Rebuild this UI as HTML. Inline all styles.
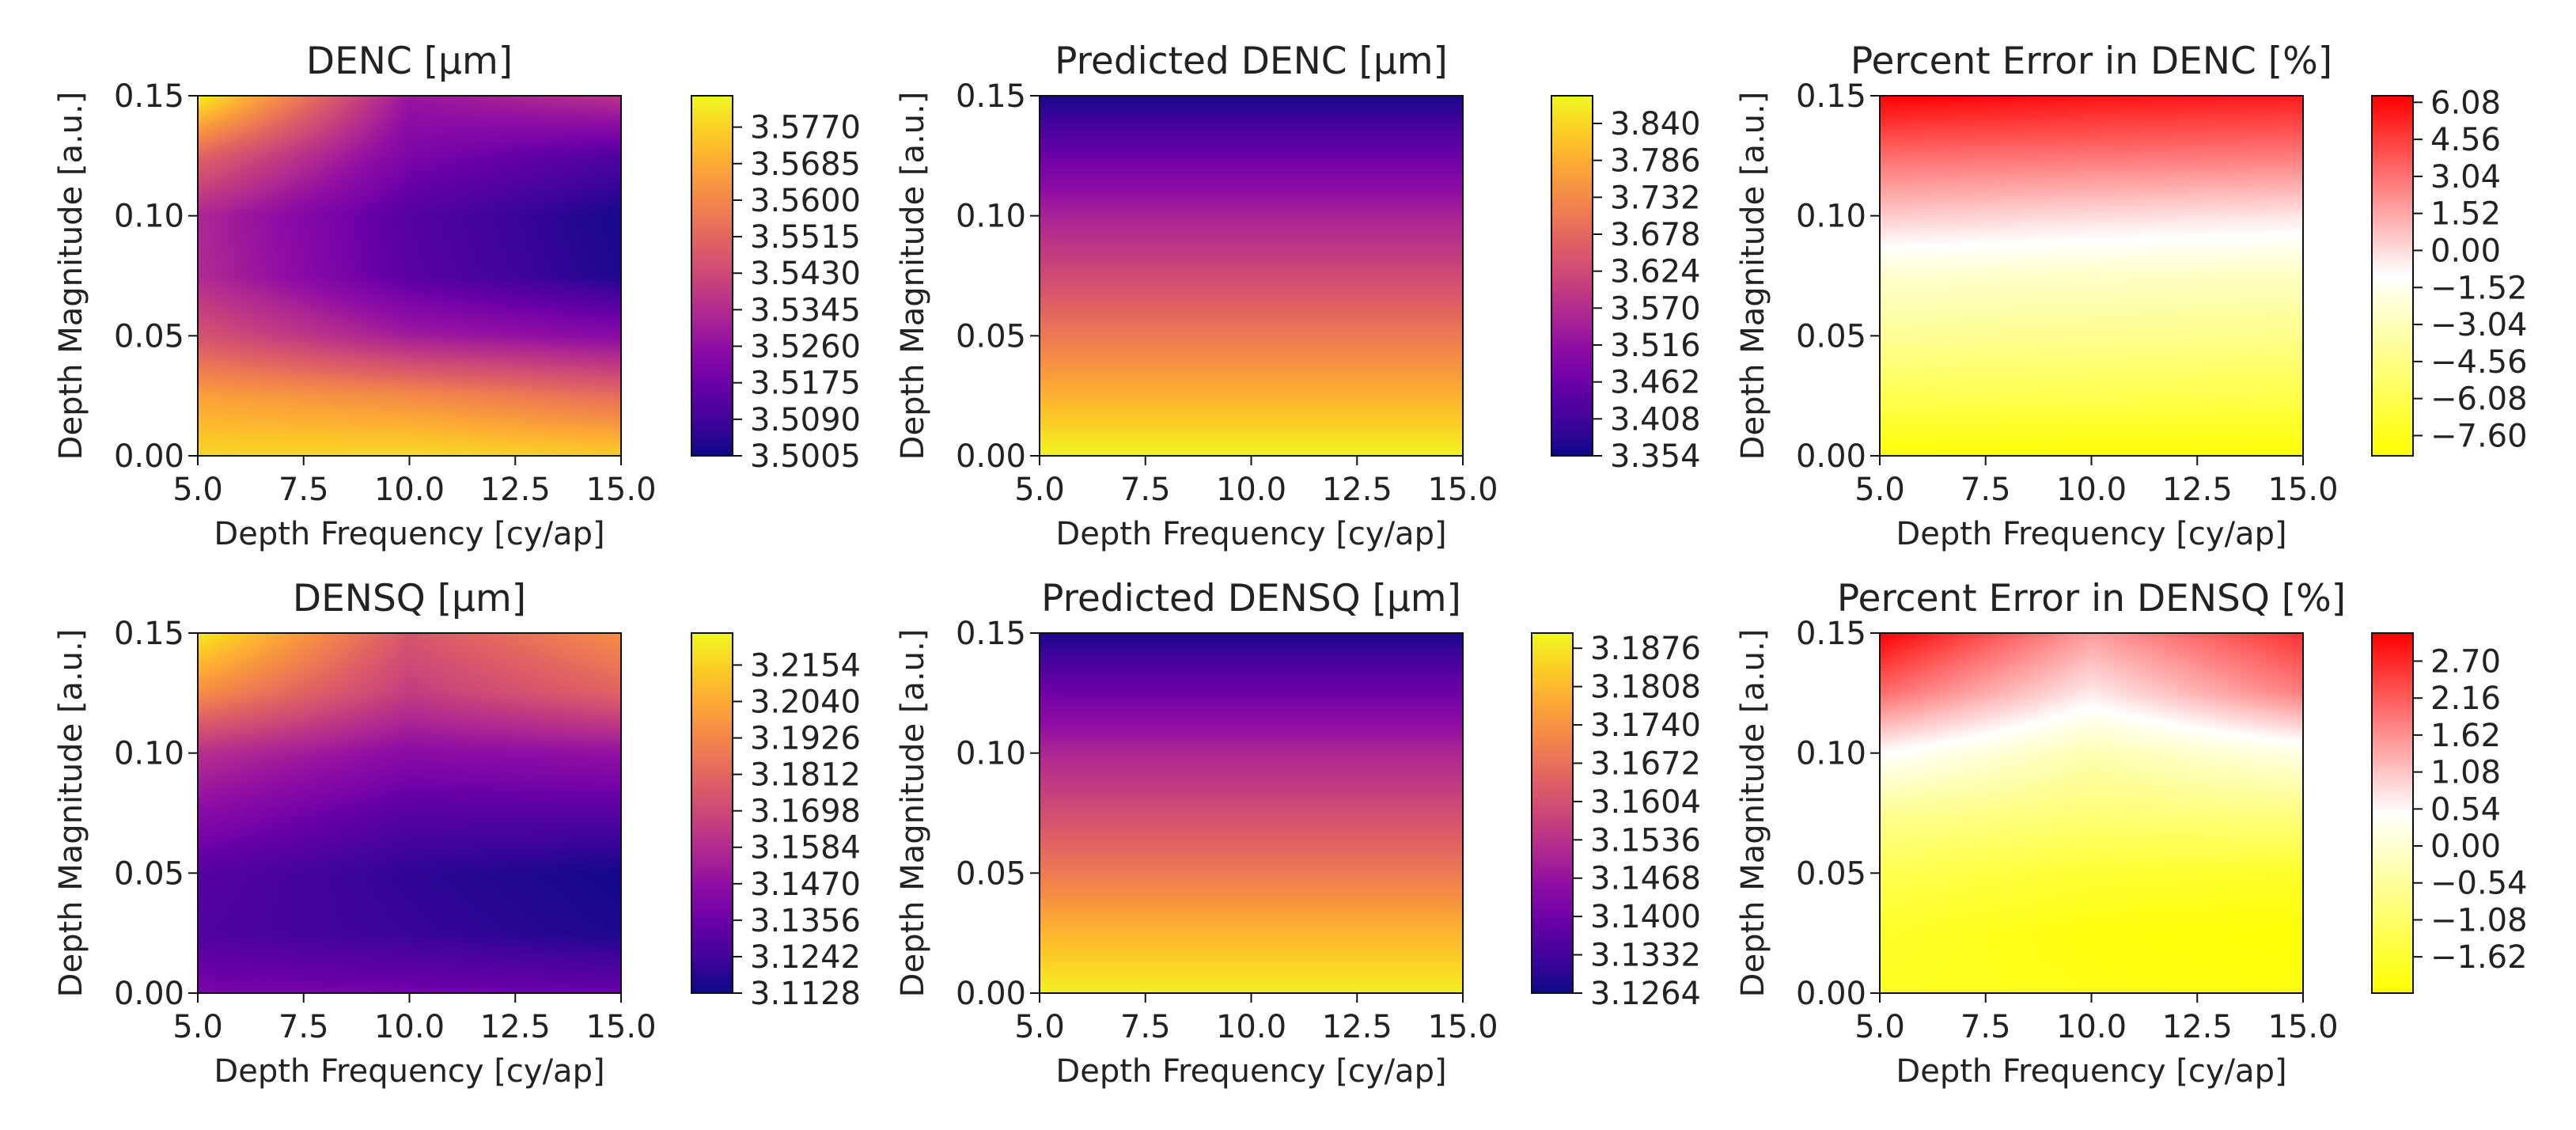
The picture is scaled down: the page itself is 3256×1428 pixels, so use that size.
<!DOCTYPE html>
<html><head><meta charset="utf-8">
<style>
html,body{margin:0;padding:0;background:#fff;}
#root{position:relative;width:3256px;height:1428px;overflow:hidden;background:#fff;}
canvas{position:absolute;}
svg{position:absolute;left:0;top:0;}
text{font-family:"DejaVu Sans","Liberation Sans",sans-serif;fill:#222;}
</style></head>
<body>
<div id="root">
<svg id="svg" width="3256" height="1428"></svg>
</div>
<script>
// ---- data (rows: magnitude 0..0.15, cols: frequency 5,10,15) ----
const freqs = [5, 10, 15];
const mags = [0, 0.025, 0.05, 0.075, 0.1, 0.125, 0.15];
const xTicks = [5.0, 7.5, 10.0, 12.5, 15.0];
const xTickLabels = ["5.0", "7.5", "10.0", "12.5", "15.0"];
const yTicks = [0, 0.05, 0.10, 0.15];
const yTickLabels = ["0.00", "0.05", "0.10", "0.15"];

const dencValues = [
 [3.578,3.579,3.576],[3.566,3.561,3.553],[3.546,3.530,3.524],[3.534,3.514,3.503],
 [3.533,3.513,3.502],[3.551,3.521,3.512],[3.583,3.528,3.537]];
const dencPredValues = [
 [3.875,3.875,3.875],[3.790,3.790,3.790],[3.705,3.705,3.705],[3.625,3.625,3.625],
 [3.550,3.550,3.550],[3.460,3.460,3.460],[3.365,3.365,3.365]];
const dencErrValues = [
 [-8.2,-8.3,-8.3],[-6.0,-6.1,-6.2],[-4.0,-4.2,-4.4],[-2.4,-2.6,-2.8],
 [0.5,0.0,-0.3],[3.2,3.0,2.8],[6.3,5.8,5.5]];
const densqValues = [
 [3.140,3.138,3.135],[3.128,3.122,3.116],[3.130,3.120,3.114],[3.145,3.130,3.130],
 [3.160,3.145,3.148],[3.195,3.165,3.180],[3.222,3.175,3.195]];
const densqPredValues = [
 [3.189,3.189,3.189],[3.180,3.180,3.180],[3.169,3.169,3.169],[3.160,3.160,3.160],
 [3.151,3.151,3.151],[3.140,3.140,3.140],[3.128,3.128,3.128]];
const densqErrValues = [
 [-1.8,-1.9,-2.0],[-1.7,-2.0,-2.1],[-1.3,-1.6,-1.7],[-0.6,-0.9,-0.8],
 [0.5,-0.3,0.2],[2.0,0.7,1.8],[3.1,1.5,2.6]];

const dencTicks = [3.5005,3.5090,3.5175,3.5260,3.5345,3.5430,3.5515,3.5600,3.5685,3.5770];
const dencTickLabels = ["3.5005","3.5090","3.5175","3.5260","3.5345","3.5430","3.5515","3.5600","3.5685","3.5770"];
const dencPredTicks = [3.354,3.408,3.462,3.516,3.570,3.624,3.678,3.732,3.786,3.840];
const dencPredTickLabels = ["3.354","3.408","3.462","3.516","3.570","3.624","3.678","3.732","3.786","3.840"];
const dencErrTicks = [-7.60,-6.08,-4.56,-3.04,-1.52,0,1.52,3.04,4.56,6.08];
const dencErrTickLabels = ["\u22127.60","\u22126.08","\u22124.56","\u22123.04","\u22121.52","0.00","1.52","3.04","4.56","6.08"];
const densqTicks = [3.1128,3.1242,3.1356,3.1470,3.1584,3.1698,3.1812,3.1926,3.2040,3.2154];
const densqTickLabels = ["3.1128","3.1242","3.1356","3.1470","3.1584","3.1698","3.1812","3.1926","3.2040","3.2154"];
const densqPredTicks = [3.1264,3.1332,3.1400,3.1468,3.1536,3.1604,3.1672,3.1740,3.1808,3.1876];
const densqPredTickLabels = ["3.1264","3.1332","3.1400","3.1468","3.1536","3.1604","3.1672","3.1740","3.1808","3.1876"];
const densqErrTicks = [-1.62,-1.08,-0.54,0,0.54,1.08,1.62,2.16,2.70];
const densqErrTickLabels = ["\u22121.62","\u22121.08","\u22120.54","0.00","0.54","1.08","1.62","2.16","2.70"];

const ranges = {denc:[3.5005,3.5843], dencPred:[3.354,3.8805], dencErr:[-8.43,6.35],
  densq:[3.1128,3.2254], densqPred:[3.1264,3.1903], densqErr:[-2.15,3.11]};

// ---- colormaps ----
const plasmaStops = ["#0d0887","#41049d","#6a00a8","#8f0da4","#b12a90","#cc4778","#e16462","#f2844b","#fca636","#fcce25","#f0f921"];
const errStops = ["#ffff00","#ffffff","#ff0000"];
function hex(h){return [parseInt(h.substr(1,2),16),parseInt(h.substr(3,2),16),parseInt(h.substr(5,2),16)];}
function cmap(stops,t){t=Math.max(0,Math.min(1,t));const n=stops.length-1;const f=t*n;let i=Math.floor(f);if(i>=n)i=n-1;const u=f-i;
 const a=hex(stops[i]),b=hex(stops[i+1]);return [a[0]+(b[0]-a[0])*u,a[1]+(b[1]-a[1])*u,a[2]+(b[2]-a[2])*u];}

const svg=document.getElementById('svg');
const root=document.getElementById('root');
const NS="http://www.w3.org/2000/svg";
function mk(tag,attrs,txt){const e=document.createElementNS(NS,tag);for(const k in attrs)e.setAttribute(k,attrs[k]);if(txt!==undefined)e.textContent=txt;svg.appendChild(e);return e;}

const PW=535, PH=455, CW=52;
const panels=[
 {title:"DENC [\u00b5m]",vals:dencValues,rng:ranges.denc,ticks:dencTicks,labels:dencTickLabels,cm:plasmaStops,x:250,y:121,cx:874,name:"denc"},
 {title:"Predicted DENC [\u00b5m]",vals:dencPredValues,rng:ranges.dencPred,ticks:dencPredTicks,labels:dencPredTickLabels,cm:plasmaStops,x:1314,y:121,cx:1961,name:"predicted-denc"},
 {title:"Percent Error in DENC [%]",vals:dencErrValues,rng:ranges.dencErr,ticks:dencErrTicks,labels:dencErrTickLabels,cm:errStops,x:2376,y:121,cx:2998,name:"error-denc"},
 {title:"DENSQ [\u00b5m]",vals:densqValues,rng:ranges.densq,ticks:densqTicks,labels:densqTickLabels,cm:plasmaStops,x:250,y:800,cx:874,name:"densq"},
 {title:"Predicted DENSQ [\u00b5m]",vals:densqPredValues,rng:ranges.densqPred,ticks:densqPredTicks,labels:densqPredTickLabels,cm:plasmaStops,x:1314,y:800,cx:1936,name:"predicted-densq"},
 {title:"Percent Error in DENSQ [%]",vals:densqErrValues,rng:ranges.densqErr,ticks:densqErrTicks,labels:densqErrTickLabels,cm:errStops,x:2376,y:800,cx:2998,name:"error-densq"}
];

function interp(vals,f,m){
 let j=0;while(j<freqs.length-2&&f>freqs[j+1])j++;
 let i=0;while(i<mags.length-2&&m>mags[i+1])i++;
 const u=(f-freqs[j])/(freqs[j+1]-freqs[j]), v=(m-mags[i])/(mags[i+1]-mags[i]);
 return vals[i][j]*(1-u)*(1-v)+vals[i][j+1]*u*(1-v)+vals[i+1][j]*(1-u)*v+vals[i+1][j+1]*u*v;
}

panels.forEach(p=>{
 const xs=f=>p.x+(f-5)/10*PW;
 const ys=m=>p.y+PH-(m/0.15)*PH;
 const cs=v=>p.y+PH-(v-p.rng[0])/(p.rng[1]-p.rng[0])*PH;
 // heatmap
 const c=document.createElement('canvas');c.width=PW;c.height=PH;
 c.style.left=p.x+'px';c.style.top=p.y+'px';
 
 
 const ctx=c.getContext('2d');const img=ctx.createImageData(PW,PH);
 for(let py=0;py<PH;py++){const m=0.15*(1-(py+0.5)/PH);
  for(let px=0;px<PW;px++){const f=5+10*(px+0.5)/PW;
   const v=interp(p.vals,f,m);const col=cmap(p.cm,(v-p.rng[0])/(p.rng[1]-p.rng[0]));
   const k=(py*PW+px)*4;img.data[k]=col[0];img.data[k+1]=col[1];img.data[k+2]=col[2];img.data[k+3]=255;}}
 ctx.putImageData(img,0,0);root.insertBefore(c,svg);
 // colorbar
 const cb=document.createElement('canvas');cb.width=CW;cb.height=PH;
 cb.style.left=p.cx+'px';cb.style.top=p.y+'px';
 
 
 const cx2=cb.getContext('2d');
 for(let py=0;py<PH;py++){const col=cmap(p.cm,1-(py+0.5)/PH);cx2.fillStyle='rgb('+col.map(Math.round).join(',')+')';cx2.fillRect(0,py,CW,1);}
 root.insertBefore(cb,svg);
 // frames
 const fr=mk('rect',{x:p.x,y:p.y,width:PW,height:PH,fill:'none',stroke:'#111','stroke-width':2});
 
 const cf=mk('rect',{x:p.cx,y:p.y,width:CW,height:PH,fill:'none',stroke:'#111','stroke-width':2});
 
 // title
 const t=mk('text',{x:p.x+PW/2,y:p.y-28,'text-anchor':'middle','font-size':47},p.title);
 
 // x ticks
 xTicks.forEach((v,i)=>{const X=xs(v);
  const l=mk('line',{x1:X,x2:X,y1:p.y+PH,y2:p.y+PH+12,stroke:'#111','stroke-width':2});
  
  const tl=mk('text',{x:X,y:p.y+PH+56,'text-anchor':'middle','font-size':40},xTickLabels[i]);
  });
 yTicks.forEach((v,i)=>{const Y=ys(v);
  const l=mk('line',{x1:p.x-12,x2:p.x,y1:Y,y2:Y,stroke:'#111','stroke-width':2});
  
  const tl=mk('text',{x:p.x-17,y:Y+14,'text-anchor':'end','font-size':40},yTickLabels[i]);
  });
 const xl=mk('text',{x:p.x+PW/2,y:p.y+PH+112,'text-anchor':'middle','font-size':40},'Depth Frequency [cy/ap]');
 
 const yx=p.x-160, yy=p.y+PH/2;
 const yl=mk('text',{x:yx,y:yy,'text-anchor':'middle','dominant-baseline':'central','font-size':40,transform:'rotate(-90 '+yx+' '+yy+')'},'Depth Magnitude [a.u.]');
 
 // colorbar ticks
 p.ticks.forEach((v,i)=>{const Y=cs(v);
  const l=mk('line',{x1:p.cx+CW,x2:p.cx+CW+12,y1:Y,y2:Y,stroke:'#111','stroke-width':2});
  
  const tl=mk('text',{x:p.cx+CW+22,y:Y+14,'text-anchor':'start','font-size':40},p.labels[i]);
  });
});
</script>
</body></html>
